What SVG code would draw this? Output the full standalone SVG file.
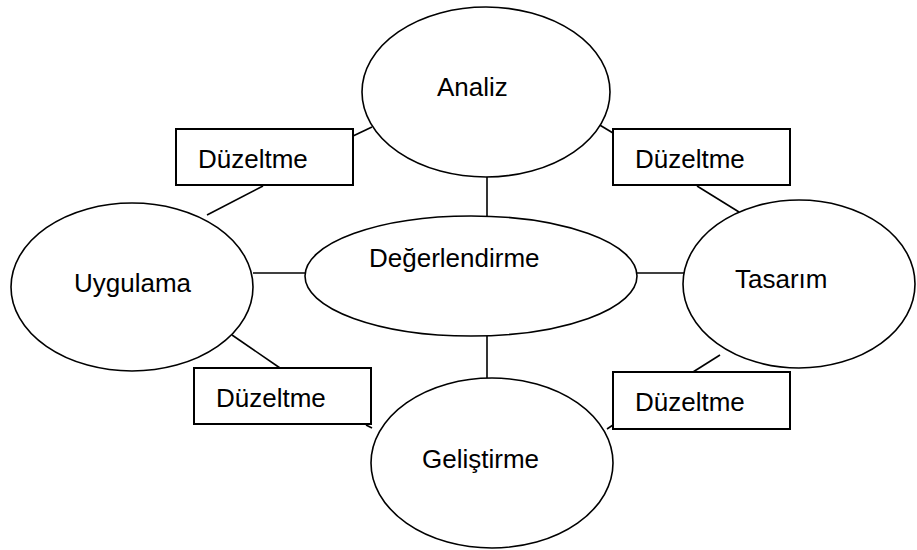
<svg xmlns="http://www.w3.org/2000/svg" width="917" height="550" viewBox="0 0 917 550">
<style>
.n{fill:#fff;stroke:#000;stroke-width:1.6}
.b{fill:#fff;stroke:#000;stroke-width:2}
.c{stroke:#000;stroke-width:1.6;fill:none}
.t{font-family:"Liberation Sans",Arial,sans-serif;font-size:26px;fill:#000}
</style>
<rect width="917" height="550" fill="#fff"/>
<g id="connectors">
<line class="c" x1="487" y1="177" x2="487" y2="216"/>
<line class="c" x1="487" y1="336" x2="487" y2="378"/>
<line class="c" x1="253" y1="273" x2="305" y2="273"/>
<line class="c" x1="637" y1="273" x2="685" y2="273"/>
<line class="c" x1="353" y1="136" x2="372" y2="127"/>
<line class="c" x1="263" y1="186" x2="207" y2="215"/>
<line class="c" x1="598" y1="124" x2="613" y2="133"/>
<line class="c" x1="697" y1="186" x2="739" y2="212"/>
<line class="c" x1="232" y1="335" x2="280" y2="368"/>
<line class="c" x1="366" y1="425" x2="372" y2="428"/>
<line class="c" x1="693" y1="372" x2="720" y2="355"/>
<line class="c" x1="607" y1="429" x2="613" y2="425"/>
</g>
<g id="analiz">
<ellipse class="n" cx="486" cy="92" rx="124" ry="85"/>
<text class="t" x="437" y="96">Analiz</text>
</g>
<g id="degerlendirme">
<ellipse class="n" cx="471" cy="276" rx="166" ry="60"/>
<text class="t" x="369" y="267">Değerlendirme</text>
</g>
<g id="uygulama">
<ellipse class="n" cx="132" cy="287" rx="121" ry="84"/>
<text class="t" x="74" y="292">Uygulama</text>
</g>
<g id="tasarim">
<ellipse class="n" cx="799" cy="284" rx="116" ry="84"/>
<text class="t" x="735" y="288">Tasarım</text>
</g>
<g id="gelistirme">
<ellipse class="n" cx="492" cy="463" rx="121" ry="85"/>
<text class="t" x="422" y="468">Geliştirme</text>
</g>
<g id="duzeltme-tl">
<rect class="b" x="176" y="129" width="177" height="56"/>
<text class="t" x="198" y="168">Düzeltme</text>
</g>
<g id="duzeltme-tr">
<rect class="b" x="613" y="129" width="177" height="56"/>
<text class="t" x="635" y="168">Düzeltme</text>
</g>
<g id="duzeltme-bl">
<rect class="b" x="194" y="368" width="177" height="56"/>
<text class="t" x="216" y="407">Düzeltme</text>
</g>
<g id="duzeltme-br">
<rect class="b" x="613" y="372" width="177" height="57"/>
<text class="t" x="635" y="411">Düzeltme</text>
</g>
</svg>
